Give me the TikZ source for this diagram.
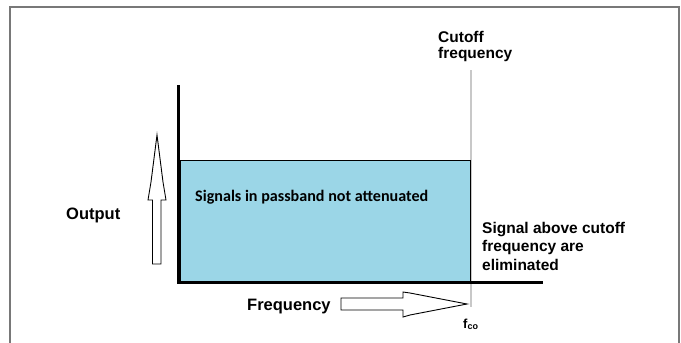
\documentclass[tikz,border=0pt]{standalone}
\usepackage{fontspec}
\setmainfont{Liberation Sans}
\newfontfamily\calibfont{Carlito}
\definecolor{passblue}{RGB}{155,214,231}
\definecolor{framegray}{RGB}{120,120,120}
\definecolor{cutgray}{RGB}{200,200,200}
\begin{document}
\begin{tikzpicture}[x=1pt,y=-1pt,
  lbl/.style={inner sep=0pt, anchor=base west, font=\bfseries\fontsize{15.5}{16.5}\selectfont},
  biglbl/.style={lbl, font=\bfseries\fontsize{16.5}{18}\selectfont},
  axisline/.style={line width=3pt, black, line join=miter},
  hollow/.style={draw=black, line width=0.9pt, fill=white, line join=miter},
  cutline/.style={cutgray, line width=1.3pt}]
\useasboundingbox (0,0) rectangle (681,343);
\draw[framegray, line width=1.3pt] (10,7) rectangle (679,360);
% cutoff line
\coordinate (ctop) at (471,70);
\coordinate (cbot) at (471,307);
\draw[cutline] (ctop) -- (cbot);
% passband box
\node (pass) [draw=black, line width=1pt, fill=passblue, minimum width=290pt,
  minimum height=121pt, anchor=north west, inner sep=0pt] at (180,160) {};
\node (passtxt) [inner sep=0pt, anchor=base west] at (195,201)
  {\calibfont\bfseries\fontsize{16.1}{16}\selectfont Signals in passband not attenuated};
% axes
\coordinate (ytop) at (178,85);
\coordinate (orig) at (178,282);
\coordinate (xend) at (543,282);
\draw[axisline] (ytop) -- (orig) -- (xend);
% up arrow
\draw[hollow] (152.5,264) -- (152.5,200) -- (148,200) -- (151,182) -- (157,135)
  -- (163,182) -- (166,200) -- (161,200) -- (161,264) -- cycle;
% right arrow
\draw[hollow] (341,298) -- (403,298) -- (403,292) -- (410,293) -- (467,304)
  -- (410,315) -- (403,317) -- (403,310) -- (341,310) -- cycle;
% labels
\node[biglbl] (out) at (66,219) {Output};
\node[biglbl] (freq) at (247,310) {Frequency};
\node[lbl, anchor=north west, align=left] (cut) at (438,30.7) {Cutoff\\frequency};
\node[lbl, anchor=north west, align=left, font=\bfseries\fontsize{15.5}{18.5}\selectfont] (above) at (482,221.7)
  {Signal above cutoff\\frequency are\\eliminated};
\node[inner sep=0pt, anchor=base west] (fco) at (463,328)
  {\bfseries\fontsize{13}{13}\selectfont f\raisebox{-1.5pt}{\fontsize{9}{9}\selectfont co}};
\end{tikzpicture}
\end{document}
